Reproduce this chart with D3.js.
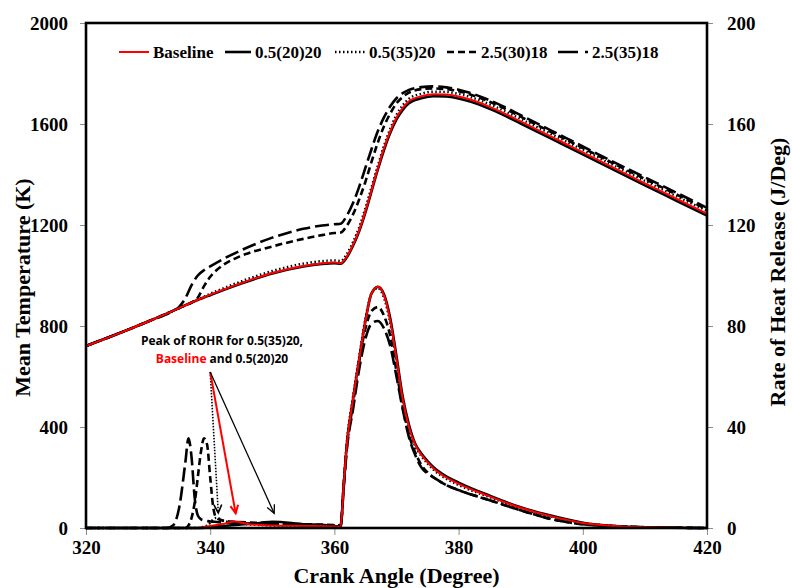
<!DOCTYPE html>
<html lang="en">
<head>
  <meta charset="UTF-8">
  <title>Mean Temperature and ROHR</title>
  <script src="https://d3js.org/d3.v7.min.js"></script>
  <style>
    body { margin: 0; background: #fff; }
    .tick text { font-family: "Liberation Serif", "Times New Roman", serif; font-weight: bold; font-size: 19px; fill: #000; }
    .tick line { stroke: #8c8c8c; }
    .title { font-family: "Liberation Serif", "Times New Roman", serif; font-weight: bold; font-size: 22px; }
    .legend text { font-family: "Liberation Serif", "Times New Roman", serif; font-weight: bold; font-size: 17px; }
    .note { font-family: "Open Sans", "Noto Sans", sans-serif; font-weight: bold; font-size: 12px; }
  </style>
</head>
<body>
<script>
  // crank angle grid for temperature
  const tempCA = [320, 325, 330, 334, 335, 336, 337, 338, 339, 340, 342, 345, 350, 355, 358, 360, 361, 362, 363, 364, 365, 366, 367, 368, 369, 370, 371, 372, 374, 376, 378, 380, 382, 385, 387, 390, 395, 400, 405, 410, 415, 420];
  // mean temperature (K)
  const tempBaseline = [721, 768, 818, 860, 871, 882, 893, 904, 914, 924, 943, 970, 1010, 1038, 1048, 1051, 1049, 1075, 1122, 1180, 1255, 1340, 1425, 1505, 1572, 1626, 1664, 1690, 1710, 1718, 1717, 1709, 1696, 1668, 1646, 1610, 1549, 1488, 1426, 1365, 1305, 1245];
  const temp0520 = [721, 768, 818, 860, 871, 882, 893, 903, 913, 922, 941, 968, 1008, 1036, 1046, 1049, 1047, 1072, 1118, 1176, 1250, 1335, 1420, 1498, 1565, 1618, 1656, 1682, 1702, 1710, 1709, 1701, 1688, 1660, 1638, 1602, 1541, 1480, 1418, 1357, 1297, 1237];
  const temp0535 = [721, 768, 818, 860, 871, 882, 893, 905, 916, 928, 948, 977, 1018, 1047, 1057, 1060, 1058, 1085, 1133, 1192, 1268, 1352, 1436, 1515, 1582, 1636, 1674, 1700, 1720, 1728, 1727, 1719, 1706, 1678, 1656, 1620, 1559, 1498, 1436, 1375, 1315, 1256];
  const temp2530 = [721, 768, 818, 860, 871, 882, 893, 912, 958, 995, 1040, 1078, 1115, 1145, 1160, 1168, 1170, 1197, 1242, 1302, 1372, 1452, 1527, 1592, 1642, 1682, 1707, 1724, 1738, 1741, 1738, 1730, 1716, 1688, 1666, 1629, 1567, 1505, 1443, 1382, 1322, 1262];
  const temp2535 = [721, 768, 818, 860, 876, 910, 962, 1000, 1021, 1036, 1064, 1100, 1150, 1185, 1198, 1203, 1205, 1237, 1287, 1352, 1427, 1502, 1572, 1627, 1670, 1702, 1722, 1735, 1746, 1749, 1745, 1736, 1722, 1694, 1672, 1635, 1573, 1511, 1449, 1389, 1329, 1268];

  // crank angle grid for rate of heat release
  const rohrCA = [320, 330, 333, 334, 335, 336, 336.5, 337, 337.5, 338, 338.5, 339, 339.5, 340, 340.5, 341, 342, 344, 346, 348, 350, 355, 360, 361, 361.5, 362, 363, 364, 365, 366, 367, 368, 369, 370, 371, 372, 373, 374, 375, 376, 378, 380, 385, 390, 395, 400, 405, 410, 420];
  // rate of heat release (J/Deg)
  const rohrBaseline = [0, 0, 0, 0, 0, 0, 0, 0, 0, 0, 0.2, 0.4, 0.6, 0.8, 1, 1.2, 1.6, 2.6, 1.6, 1.2, 1, 0.8, 0.6, 0.5, 17, 33, 51, 67, 82, 93, 95.5, 92, 82, 67, 51, 40, 33, 29, 26, 23.5, 20, 17.5, 12.5, 8, 4.6, 2, 0.8, 0.3, 0];
  const rohr0520 = [0, 0, 0, 0, 0, 0, 0, 0, 0, 0, 0, 0.1, 0.2, 0.3, 0.4, 0.6, 0.8, 1.2, 1.6, 2, 2.5, 1.5, 0.8, 0.5, 17, 33, 51, 67, 82, 93, 95.5, 92.5, 83, 68, 52, 41, 33.5, 29.5, 26.5, 24, 20.5, 18, 12.8, 8.2, 4.8, 2.1, 0.8, 0.3, 0];
  const rohr0535 = [0, 0, 0, 0, 0, 0, 0, 0, 0, 0, 0.3, 0.5, 1, 2, 3.5, 4, 3, 2, 1.5, 1.2, 1, 0.8, 0.6, 0.6, 18, 34, 52, 68, 83, 93, 95, 91, 81, 66, 50, 39, 32.5, 28.5, 25.5, 23, 19.5, 17, 12.2, 7.8, 4.5, 2, 0.8, 0.3, 0];
  const rohr2530 = [0, 0, 0, 0, 0, 0, 1, 4, 10, 20, 30, 35.5, 33, 20, 8, 4, 3, 2.5, 2.2, 2, 1.8, 1.5, 1.2, 1, 17, 32, 49, 66, 79, 86, 87.5, 84, 76, 62, 48, 37, 30, 25, 22, 20, 17, 15, 11, 7, 3.5, 1.5, 0.8, 0.3, 0];
  const rohr2535 = [0, 0, 0, 1, 8, 26, 35.5, 28, 12, 5, 3.5, 3, 2.8, 2.6, 2.5, 2.4, 2.2, 2, 1.8, 1.7, 1.6, 1.3, 1, 0.8, 16, 31, 47, 63, 75, 81, 82, 79, 72, 60, 47, 36, 29, 24, 21.5, 20, 17, 15, 11, 7, 3.5, 1.5, 0.6, 0.3, 0];

  // axis ticks
  const caTicks = [320, 340, 360, 380, 400, 420];
  const tempTicks = [0, 400, 800, 1200, 1600, 2000];
  const rohrTicks = [0, 40, 80, 120, 160, 200];

  const width = 792, height = 588;
  const margin = { left: 86, right: 85, top: 23, bottom: 60 };
  const x0 = margin.left, x1 = width - margin.right;
  const y0 = height - margin.bottom, y1 = margin.top;

  const x = d3.scaleLinear().domain([320, 420]).range([x0, x1]);
  const yT = d3.scaleLinear().domain([0, 2000]).range([y0, y1]);
  const yR = d3.scaleLinear().domain([0, 200]).range([y0, y1]);

  const svg = d3.select("body").append("svg")
    .attr("width", width).attr("height", height);

  // line styles per series
  const styles = {
    "Baseline":  { color: "#ff0000", width: 2, dash: null },
    "0.5(20)20": { color: "#000", width: 2.6, dash: null },
    "0.5(35)20": { color: "#000", width: 2.4, dash: "1.5,2.5" },
    "2.5(30)18": { color: "#000", width: 2.6, dash: "7,4" },
    "2.5(35)18": { color: "#000", width: 2.6, dash: "14,5" }
  };

  const tempData = {
    "Baseline": tempBaseline, "0.5(20)20": temp0520, "0.5(35)20": temp0535,
    "2.5(30)18": temp2530, "2.5(35)18": temp2535
  };
  const rohrData = {
    "Baseline": rohrBaseline, "0.5(20)20": rohr0520, "0.5(35)20": rohr0535,
    "2.5(30)18": rohr2530, "2.5(35)18": rohr2535
  };

  const tempLine = d3.line().x(d => x(d[0])).y(d => yT(d[1])).curve(d3.curveMonotoneX);
  const rohrLine = d3.line().x(d => x(d[0])).y(d => yR(d[1])).curve(d3.curveMonotoneX);

  // axes
  svg.append("g")
    .attr("transform", `translate(0,${y0})`)
    .call(d3.axisBottom(x).tickValues(caTicks).tickSize(7).tickPadding(6))
    .call(g => g.select(".domain").remove());

  svg.append("g")
    .attr("transform", `translate(${x0},0)`)
    .call(d3.axisLeft(yT).tickValues(tempTicks).tickFormat(d3.format("d")).tickSize(6).tickPadding(12))
    .call(g => g.select(".domain").remove());

  svg.append("g")
    .attr("transform", `translate(${x1},0)`)
    .call(d3.axisRight(yR).tickValues(rohrTicks).tickSize(6).tickPadding(14))
    .call(g => g.select(".domain").remove());

  // draw order: black first, red baseline on top of the solid black
  const order = ["2.5(35)18", "2.5(30)18", "0.5(35)20", "0.5(20)20", "Baseline"];
  order.forEach(name => {
    const s = styles[name];
    svg.append("path")
      .datum(tempCA.map((c, i) => [c, tempData[name][i]]))
      .attr("d", tempLine)
      .attr("fill", "none")
      .attr("stroke", s.color)
      .attr("stroke-width", s.width)
      .attr("stroke-dasharray", s.dash);
    svg.append("path")
      .datum(rohrCA.map((c, i) => [c, rohrData[name][i]]))
      .attr("d", rohrLine)
      .attr("fill", "none")
      .attr("stroke", s.color)
      .attr("stroke-width", s.width)
      .attr("stroke-dasharray", s.dash);
  });

  // plot frame
  svg.append("rect")
    .attr("x", x0).attr("y", y1)
    .attr("width", x1 - x0).attr("height", y0 - y1)
    .attr("fill", "none").attr("stroke", "#000").attr("stroke-width", 2.6);

  // legend
  const legendItems = [
    { name: "Baseline", x: 119, len: 30 },
    { name: "0.5(20)20", x: 225, len: 26 },
    { name: "0.5(35)20", x: 335, len: 30 },
    { name: "2.5(30)18", x: 447, len: 30 },
    { name: "2.5(35)18", x: 558, len: 30 }
  ];
  const legend = svg.append("g").attr("class", "legend");
  legendItems.forEach(item => {
    const s = styles[item.name];
    legend.append("line")
      .attr("x1", item.x).attr("x2", item.x + item.len)
      .attr("y1", 52).attr("y2", 52)
      .attr("stroke", s.color).attr("stroke-width", s.width)
      .attr("stroke-dasharray", item.name === "2.5(35)18" ? "20,7,3,20" : s.dash);
    legend.append("text")
      .attr("x", item.x + item.len + 4).attr("y", 58)
      .text(item.name);
  });

  // annotation
  const noteX = 341.9;
  const note = svg.append("text").attr("class", "note")
    .attr("text-anchor", "middle");
  note.append("tspan").attr("x", x(noteX)).attr("y", yR(72.5))
    .text("Peak of ROHR for 0.5(35)20,");
  const l2 = note.append("tspan").attr("x", x(noteX)).attr("y", yR(65.3));
  l2.append("tspan").attr("fill", "#ff0000").text("Baseline");
  l2.append("tspan").attr("fill", "#000").text(" and 0.5(20)20");

  const arrowFrom = [340.0, 61.8];
  const arrows = [
    { to: [341.3, 6.0], color: "#000", width: 1.6, dash: "1.5,1.5" },
    { to: [344.1, 5.8], color: "#ff0000", width: 2, dash: null },
    { to: [350.3, 5.8], color: "#000", width: 1.3, dash: null }
  ];
  arrows.forEach(a => {
    const xa = x(arrowFrom[0]), ya = yR(arrowFrom[1]);
    const xb = x(a.to[0]), yb = yR(a.to[1]);
    svg.append("line")
      .attr("x1", xa).attr("y1", ya).attr("x2", xb).attr("y2", yb)
      .attr("stroke", a.color).attr("stroke-width", a.width)
      .attr("stroke-dasharray", a.dash);
    const ang = Math.atan2(yb - ya, xb - xa);
    const hl = 9, spread = 0.45;
    const p1 = [xb - hl * Math.cos(ang - spread), yb - hl * Math.sin(ang - spread)];
    const p2 = [xb - hl * Math.cos(ang + spread), yb - hl * Math.sin(ang + spread)];
    svg.append("path")
      .attr("d", `M${p1[0]},${p1[1]}L${xb},${yb}L${p2[0]},${p2[1]}`)
      .attr("fill", "none").attr("stroke", a.color).attr("stroke-width", a.width);
  });

  // axis titles
  svg.append("text").attr("class", "title")
    .attr("text-anchor", "middle")
    .attr("x", (x0 + x1) / 2).attr("y", 583)
    .text("Crank Angle (Degree)");

  svg.append("text").attr("class", "title")
    .attr("text-anchor", "middle")
    .attr("transform", `translate(30,${(y0 + y1) / 2 + 12}) rotate(-90)`)
    .text("Mean Temperature (K)");

  svg.append("text").attr("class", "title")
    .attr("text-anchor", "middle")
    .attr("transform", `translate(785,272) rotate(-90)`)
    .text("Rate of Heat Release (J/Deg)");
</script>
</body>
</html>
